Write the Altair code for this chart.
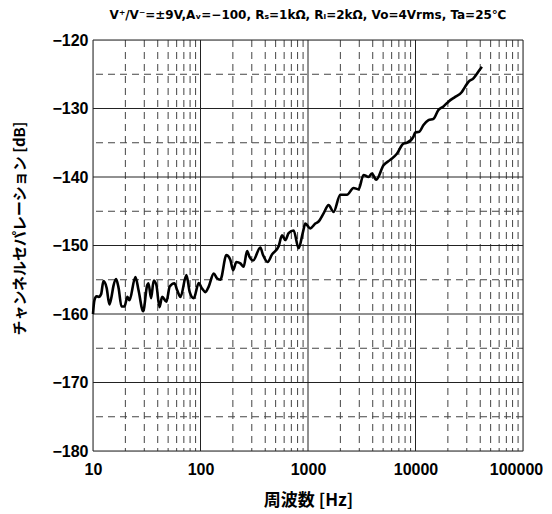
import altair as alt
import pandas as pd

# Frequency (Hz) and channel separation (dB)
freq_hz = [10, 10.3, 10.8, 11.3, 11.9, 12.5, 13.4, 14.2, 14.9, 15.5, 16.4, 17.3, 18.4, 19.6,
           20.9, 21.8, 24.8, 26.5, 29.3, 31.9, 32.8, 34.7, 36.7, 38.9, 41.5, 44.0, 48.2, 51.7,
           57.2, 60.6, 65.1, 74.0, 79.4, 86.5, 96.2, 103.5, 111.1, 119.2, 132.7, 142.7, 153.0,
           174.1, 189.6, 200.9, 215.6, 234.9, 252.0, 271.1, 286.6, 308.2, 360.3, 381.7, 421.2,
           462.8, 533.4, 573.5, 615.2, 660.2, 734.9, 817.7, 898.6, 944, 1050, 1169, 1255, 1396,
           1554, 1729, 1996, 2304, 2653, 2953, 3286, 3658, 3933, 4312, 5042, 5820, 6716, 7737,
           8322, 9581, 9936, 10825, 11870, 13207, 14700, 16360, 18200, 20260, 23390, 26990,
           28970, 31090, 34590, 38500, 41410]
sep_db = [-160.0, -158.0, -157.4, -157.5, -157.1, -155.2, -156.2, -158.6, -157.4, -155.9,
          -154.9, -156.2, -158.9, -158.9, -157.5, -158.0, -154.6, -156.5, -159.6, -155.8,
          -155.5, -157.7, -155.1, -155.8, -159.0, -157.5, -158.2, -156.0, -155.5, -156.5,
          -157.5, -154.3, -156.8, -157.7, -155.5, -156.3, -156.8, -156.0, -154.1, -154.8,
          -155.0, -151.4, -152.1, -153.6, -152.4, -152.6, -153.1, -150.8, -151.7, -152.2,
          -150.3, -151.4, -152.4, -151.3, -150.1, -148.5, -149.2, -148.2, -147.8, -150.4,
          -148.0, -146.8, -147.5, -146.8, -146.5, -145.3, -144.1, -145.1, -142.6, -142.6,
          -141.6, -141.8, -139.7, -140.0, -139.5, -140.4, -138.3, -137.5, -136.6, -135.1,
          -135.0, -134.1, -133.5, -133.4, -132.4, -131.7, -131.5, -130.2, -129.7, -129.0,
          -128.3, -127.6, -126.8, -126.1, -125.6, -124.6, -123.9]

x_ticks = [10, 100, 1000, 10000, 100000]
x_minor = [20, 30, 40, 50, 60, 70, 80, 90,
           200, 300, 400, 500, 600, 700, 800, 900,
           2000, 3000, 4000, 5000, 6000, 7000, 8000, 9000,
           20000, 30000, 40000, 50000, 60000, 70000, 80000, 90000]
y_ticks = [-180, -170, -160, -150, -140, -130, -120]
y_minor = [-175, -165, -155, -145, -135, -125]

title_text = "V⁺/V⁻=±9V,Aᵥ=−100, Rₛ=1kΩ, Rₗ=2kΩ, Vo=4Vrms, Ta=25℃"
x_title = "周波数 [Hz]"
y_title = "チャンネルセパレーション [dB]"

xscale = alt.Scale(type="log", domain=[10, 100000], nice=False)
yscale = alt.Scale(domain=[-180, -120], nice=False, zero=False)

x_axis = alt.Axis(values=x_ticks, format="d", grid=False, domain=False, ticks=False,
                  labelFlush=False,
                  labelFont="Liberation Sans", labelFontSize=16, labelFontWeight="bold",
                  labelColor="black", labelPadding=10,
                  labelOffset=alt.expr("datum.value == 100000 ? -7 : 0"),
                  titleFont="Noto Sans CJK JP", titleFontSize=17, titleFontWeight="bold",
                  titleColor="black", titlePadding=15)
y_axis = alt.Axis(values=y_ticks, format="d", grid=False, domain=False, ticks=False,
                  labelFont="Liberation Sans", labelFontSize=16, labelFontWeight="bold",
                  labelColor="black", labelPadding=5,
                  titleFont="Noto Sans CJK JP", titleFontSize=15, titleFontWeight="bold",
                  titleColor="black", titleX=-74, titleY=188, titleAlign="center",
                  titleBaseline="middle", titleAngle=-90)

curve = pd.DataFrame({"f": freq_hz, "db": sep_db})
xmin_df = pd.DataFrame({"f": x_minor})
xmaj_df = pd.DataFrame({"f": x_ticks})
ymin_df = pd.DataFrame({"db": y_minor})
ymaj_df = pd.DataFrame({"db": y_ticks})

X = alt.X("f:Q", scale=xscale, title=x_title, axis=x_axis)
Y = alt.Y("db:Q", scale=yscale, title=y_title, axis=y_axis)

dash = [7, 5]
gx_minor = alt.Chart(xmin_df).mark_rule(color="#444", strokeWidth=1, strokeDash=dash).encode(x=X)
gy_minor = alt.Chart(ymin_df).mark_rule(color="#444", strokeWidth=1, strokeDash=dash).encode(y=Y)
gx_major = alt.Chart(xmaj_df).mark_rule(color="#222", strokeWidth=1).encode(x=X)
gy_major = alt.Chart(ymaj_df).mark_rule(color="#222", strokeWidth=1).encode(y=Y)

line = alt.Chart(curve).mark_line(color="black", strokeWidth=2.6, interpolate="monotone").encode(
    x=X, y=Y, order=alt.Order("f:Q"))

chart = alt.layer(gx_minor, gy_minor, gx_major, gy_major, line).properties(
    width=430, height=411,
    autosize=alt.AutoSizeParams(type="none"),
    padding={"left": 85, "top": 32, "right": 20, "bottom": 60},
    title=alt.TitleParams(text=title_text, font="DejaVu Sans", fontSize=12,
                          fontWeight="bold", color="black", anchor="middle", offset=10),
).configure_view(stroke="black", strokeWidth=2.5).configure(background="white")

chart.save("out.html", embed_options={"renderer": "svg", "actions": False})
